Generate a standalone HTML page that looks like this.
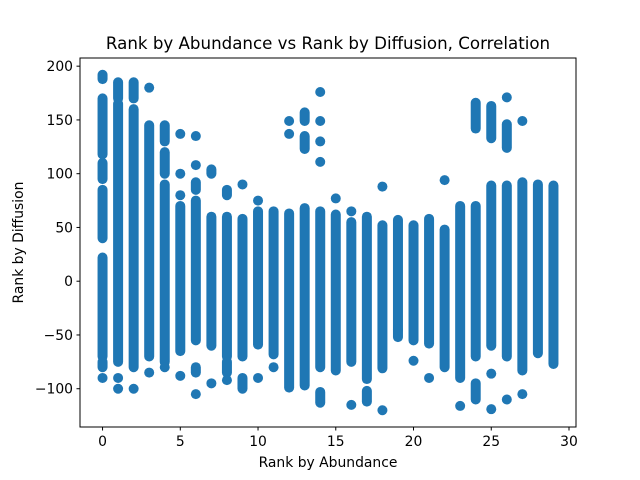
<!DOCTYPE html>
<html><head><meta charset="utf-8"><style>
body{margin:0;background:#fff}
svg{display:block;font-family:"DejaVu Sans","Liberation Sans",sans-serif}
</style></head><body>
<svg id="chart" width="640" height="480" viewBox="0 0 640 480">
<rect width="640" height="480" fill="#fff"/>
<text x="328" y="49" text-anchor="middle" font-size="16.67">Rank by Abundance vs Rank by Diffusion, Correlation</text>
<text x="328" y="467" text-anchor="middle" font-size="13.9">Rank by Abundance</text>
<text transform="translate(23,242.5) rotate(-90)" text-anchor="middle" font-size="13.9">Rank by Diffusion</text>
<g id="marks"></g>
<g id="axes"></g>
<rect x="80" y="58" width="496" height="369" fill="none" stroke="#000" stroke-width="1"/>
</svg>
<script>
const xTicks=[0,5,10,15,20,25,30];
const yTicks=[-100,-50,0,50,100,150,200];
// denseRanges[i] = [low, high] continuous stack of points for abundance rank i
const denseLow=[-70,-75,-80,-70,-75,-65,-55,-60,-70,-70,-59,-68,-99,-97,-80,-83,-75,-91,-81,-52,-55,-58,-80,-90,-70,-60,-70,-83,-67,-77];
const denseHigh=[22,165,160,145,90,70,75,60,60,58,65,65,63,68,65,62,55,60,52,57,52,58,48,70,70,89,89,92,90,89];
// extra clusters [low, high] per column
const extraSegs=[[[40,85],[95,110],[118,170],[188,192],[-90,-90],[-80,-75]],[[170,185],[-90,-90],[-100,-100]],[[170,185],[-100,-100]],[[180,180],[-85,-85]],[[100,120],[130,145],[-80,-80]],[[80,80],[100,100],[137,137],[-88,-88]],[[85,92],[108,108],[135,135],[-85,-80],[-105,-105]],[[100,104],[-95,-95]],[[80,85],[-85,-75],[-92,-92]],[[90,90],[-90,-100]],[[75,75],[-90,-90]],[[-80,-80]],[[149,149],[137,137]],[[149,157],[123,135]],[[176,176],[149,149],[130,130],[111,111],[-113,-103]],[[77,77]],[[65,65],[-115,-115]],[[-112,-102]],[[88,88],[-120,-120]],[[-45,-45]],[[-74,-74]],[[-90,-90]],[[94,94]],[[-116,-116]],[[142,166],[-110,-95]],[[133,163],[-86,-86],[-119,-119]],[[171,171],[124,146],[-110,-110]],[[149,149],[-105,-105]],[],[]];
const X0=-1.45,X1=30.45,Y0=-135.6,Y1=207.6;
const L=80,R=576,T=58,B=427;
function sx(v){return L+(v-X0)/(X1-X0)*(R-L);}
function sy(v){return B-(v-Y0)/(Y1-Y0)*(B-T);}
const NS="http://www.w3.org/2000/svg";
const marks=document.getElementById('marks');
function seg(i,lo,hi,name){
  const l=document.createElementNS(NS,'line');
  l.setAttribute('x1',sx(i));l.setAttribute('x2',sx(i));
  l.setAttribute('y1',sy(lo));l.setAttribute('y2',sy(hi));
  l.setAttribute('stroke','#1f77b4');l.setAttribute('stroke-width','10');l.setAttribute('stroke-linecap','round');
  
  
  marks.appendChild(l);
}
for(let i=0;i<denseLow.length;i++){
  seg(i,denseLow[i],denseHigh[i],'point-column-'+i);
  extraSegs[i].forEach(s=>seg(i,s[0],s[1],'point-cluster-'+i));
}
const axes=document.getElementById('axes');
xTicks.forEach(t=>{
  const x=sx(t);
  const l=document.createElementNS(NS,'line');
  l.setAttribute('x1',x);l.setAttribute('x2',x);l.setAttribute('y1',B);l.setAttribute('y2',B+3.5);l.setAttribute('stroke','#000');
  
  
  axes.appendChild(l);
  const tx=document.createElementNS(NS,'text');
  tx.setAttribute('x',x);tx.setAttribute('y',B+19);tx.setAttribute('text-anchor','middle');tx.setAttribute('font-size','13.9');
  tx.textContent=t;
  
  
  axes.appendChild(tx);
});
yTicks.forEach(t=>{
  const y=sy(t);
  const l=document.createElementNS(NS,'line');
  l.setAttribute('x1',L-3.5);l.setAttribute('x2',L);l.setAttribute('y1',y);l.setAttribute('y2',y);l.setAttribute('stroke','#000');
  
  
  axes.appendChild(l);
  const tx=document.createElementNS(NS,'text');
  tx.setAttribute('x',L-7);tx.setAttribute('y',y+5);tx.setAttribute('text-anchor','end');tx.setAttribute('font-size','13.9');
  tx.textContent=(t<0?'\u2212'+(-t):t);
  
  
  axes.appendChild(tx);
});
</script>
</body></html>
